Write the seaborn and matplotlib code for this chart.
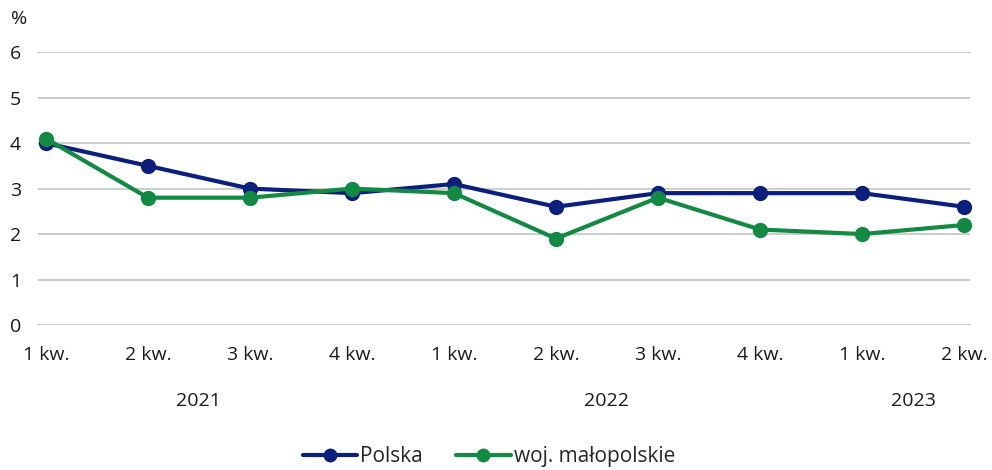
import matplotlib
matplotlib.use("Agg")
import matplotlib.pyplot as plt
import seaborn as sns
import pandas as pd
from matplotlib.lines import Line2D

quarters = ["1 kw.", "2 kw.", "3 kw.", "4 kw.", "1 kw.", "2 kw.", "3 kw.", "4 kw.", "1 kw.", "2 kw."]
years = ["2021", "2022", "2023"]
year_centers = [1.5, 5.5, 8.5]
polska = [4.0, 3.5, 3.0, 2.9, 3.1, 2.6, 2.9, 2.9, 2.9, 2.6]
malopolskie = [4.1, 2.8, 2.8, 3.0, 2.9, 1.9, 2.8, 2.1, 2.0, 2.2]
series_names = ["Polska", "woj. małopolskie"]
colors = ["#0c1f7c", "#128a43"]

sns.set_theme(style="white")
plt.rcParams["font.family"] = ["Open Sans", "DejaVu Sans"]

FS = 14
TXT = "#1a1a1a"

idx = list(range(len(quarters)))
df = pd.DataFrame({
    "x": idx * 2,
    "value": polska + malopolskie,
    "series": [series_names[0]] * len(idx) + [series_names[1]] * len(idx),
})

fig = plt.figure(figsize=(9.92, 4.70), dpi=100)
ax = fig.add_axes([0.038, 0.3085, 0.940, 0.5805])

sns.lineplot(data=df, x="x", y="value", hue="series", palette=colors,
             marker="o", markersize=11, markeredgewidth=0, linewidth=3,
             ax=ax, legend=False, clip_on=False, zorder=3)

ax.set_xlim(-0.08, 9.06)
ax.set_ylim(0, 6)
ax.set_yticks(range(0, 7))
ax.yaxis.grid(True, color="#bfbfbf", linewidth=1.1)
ax.xaxis.grid(False)
for s in ax.spines.values():
    s.set_visible(False)
ax.set_xticks(idx)
ax.set_xticklabels(quarters, fontsize=FS, color=TXT)
ax.tick_params(axis="x", length=0, pad=15)
ax.tick_params(axis="y", length=0, pad=12, labelsize=FS, labelcolor=TXT)
ax.set_xlabel("")
ax.set_ylabel("")

for y, c in zip(years, year_centers):
    ax.text(c, -0.28, y, transform=ax.get_xaxis_transform(), ha="center", va="center",
            fontsize=FS, color=TXT)
ax.text(-0.02, 1.12, "%", transform=ax.transAxes, ha="center", va="center",
        fontsize=FS, color=TXT)

handles = [Line2D([0], [0], color=c, linewidth=3, marker="o", markersize=10, markeredgewidth=0)
           for c in colors]
fig.legend(handles, series_names, loc="center", bbox_to_anchor=(0.493, 0.028), ncol=2,
           frameon=False, fontsize=15, handlelength=2.6, handletextpad=0.15,
           columnspacing=1.6)

fig.savefig("out.png", dpi=100)
